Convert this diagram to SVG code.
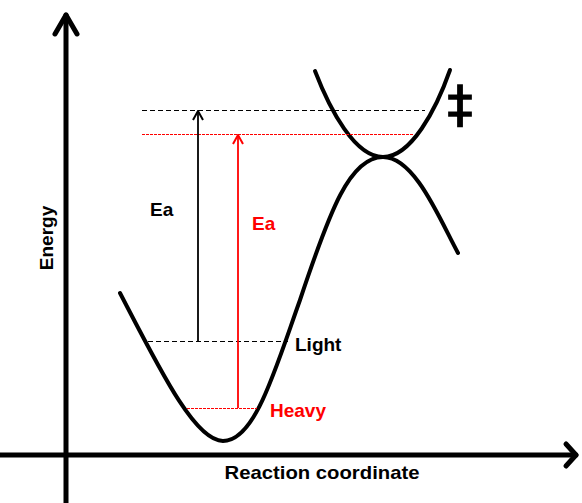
<svg xmlns="http://www.w3.org/2000/svg" width="582" height="503" viewBox="0 0 582 503">
<style>
.lbl{font-family:"Liberation Sans",Arial,sans-serif;font-weight:bold;font-size:19px}
.axis{stroke:#000;stroke-width:5;fill:none;stroke-linecap:round;stroke-linejoin:round}
.curve{stroke:#000;stroke-width:4;fill:none;stroke-linecap:round}
.dashk{stroke:#000;stroke-width:1;stroke-dasharray:5,3;fill:none}
.dashr{stroke:#f00;stroke-width:1;stroke-dasharray:3,1;fill:none}
</style>
<defs>
<marker id="ak" markerWidth="12" markerHeight="12" refX="11" refY="6" orient="auto" markerUnits="userSpaceOnUse" viewBox="0 0 12 12">
<path d="M2,1 L11,6 L2,11" fill="none" stroke="#000" stroke-width="2"/>
</marker>
<marker id="ar" markerWidth="12" markerHeight="12" refX="11" refY="6" orient="auto" markerUnits="userSpaceOnUse" viewBox="0 0 12 12">
<path d="M2,1 L11,6 L2,11" fill="none" stroke="#f00" stroke-width="2"/>
</marker>
</defs>
<g id="axes">
<path class="axis" d="M66,503 L66,15"/>
<path class="axis" d="M55,34 L66,15 L77,34"/>
<path class="axis" d="M0,455 L576,455" stroke-width="4.5"/>
<path class="axis" d="M566,444 L576,455 L566,466"/>
<text class="lbl" x="0" y="0" transform="translate(53,238) rotate(-90)" text-anchor="middle" font-size="18">Energy</text>
<text class="lbl" x="322" y="479" text-anchor="middle" textLength="195" lengthAdjust="spacingAndGlyphs">Reaction coordinate</text>
</g>
<g id="curves">
<path class="curve" d="M120,293 C160,370 195,441 223,441 C255,441 275,370 300,300 C330,210 350,157 383,157 C415,157 440,220 458,253"/>
<path class="curve" d="M315,71 C330,110 355,157 383,157 C411,157 436,110 450,70"/>
</g>
<g id="connectors">
<path class="dashk" d="M142,110.5 L425,110.5"/>
<path class="dashr" d="M142,134.5 L413,134.5"/>
<path class="dashk" d="M148,341.5 L288,341.5"/>
<path class="dashr" d="M187,408.5 L257,408.5"/>
<path d="M198,341 L198,111" stroke="#000" stroke-width="1.8" marker-end="url(#ak)"/>
<path d="M238,408 L238,135" stroke="#f00" stroke-width="1.8" marker-end="url(#ar)"/>
</g>
<g id="labels">
<text class="lbl" x="150" y="216">Ea</text>
<text class="lbl" x="252" y="230" fill="#f00">Ea</text>
<text class="lbl" x="295" y="351">Light</text>
<text class="lbl" x="270" y="417" fill="#f00">Heavy</text>
<text x="460" y="121" font-family="DejaVu Sans,sans-serif" font-size="50" stroke="#000" stroke-width="1.5" text-anchor="middle">‡</text>
</g>
</svg>
